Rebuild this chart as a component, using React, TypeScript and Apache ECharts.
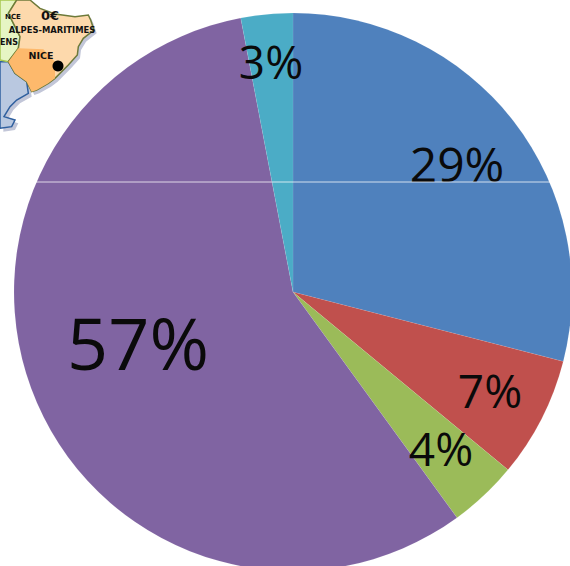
import React, { useEffect, useRef } from "react";
import * as echarts from "echarts";

const categories = ["A", "B", "C", "D", "E"];
const values = [29, 7, 4, 57, 3];
const colors = ["#4f81bd", "#c0504d", "#9bbb59", "#8064a2", "#4bacc6"];
const labelTexts = ["29%", "7%", "4%", "57%", "3%"];
const labelSizes = [48, 46, 46, 72, 46];
const labelCenters: number[][] = [[457, 163], [490, 390], [441, 448], [138, 342], [271, 61]];

const z = (pts: number[][], dx = 0, dy = 0) => pts.map(([x, y]) => [(x + dx) / 3, (y + dy) / 3]);
const poly = (pts: number[][], fill: string, stroke?: string, lw = 1, dx = 0, dy = 0) => ({
  type: "polygon",
  shape: { points: z(pts, dx, dy) },
  style: { fill, stroke: stroke || "none", lineWidth: lw },
  z: 10,
});
const mapText = (x: number, y: number, text: string, size: number) => ({
  type: "text",
  x,
  y,
  style: { text, fill: "#111", fontFamily: "DejaVu Sans", fontWeight: "bold", fontSize: size, align: "center", verticalAlign: "middle" },
  z: 12,
});

const seaShape = [[0, 185], [25, 185], [45, 220], [80, 245], [85, 280], [50, 300], [30, 320], [12, 350], [45, 360], [35, 380], [0, 385]];
const greenShape = [[0, 0], [50, 0], [25, 40], [60, 110], [55, 145], [25, 185], [0, 180]];
const peachShape = [[50, 0], [90, 0], [120, 25], [165, 42], [225, 50], [265, 45], [272, 60], [282, 90], [250, 115], [235, 140], [232, 165], [205, 195], [165, 235], [145, 250], [110, 270], [95, 275], [80, 245], [45, 220], [25, 185], [55, 145], [60, 110], [25, 40]];
const orangeShape = [[25, 185], [55, 145], [130, 148], [165, 185], [165, 235], [145, 250], [110, 270], [95, 275], [80, 245], [45, 220]];

export default function App() {
  const ref = useRef<HTMLDivElement>(null);
  useEffect(() => {
    document.body.style.margin = "0";
    document.body.style.background = "#fff";
    const chart = echarts.init(ref.current!, null, { renderer: "svg" });
    chart.setOption({
      animation: false,
      backgroundColor: "#ffffff",
      series: [
        {
          type: "pie",
          center: [293, 292],
          radius: [0, 279],
          startAngle: 90,
          clockwise: true,
          silent: true,
          itemStyle: { borderColor: "rgba(255,255,255,0.15)", borderWidth: 0.5 },
          labelLine: { show: false },
          label: { show: true, position: "inside", color: "#0a0a0a", fontFamily: "Open Sans" },
          labelLayout: (p: any) => ({
            x: labelCenters[p.dataIndex][0],
            y: labelCenters[p.dataIndex][1],
            align: "center",
            verticalAlign: "middle",
          }),
          data: categories.map((name, i) => ({
            name,
            value: values[i],
            itemStyle: { color: colors[i] },
            label: { formatter: labelTexts[i], fontSize: labelSizes[i] },
          })),
        },
      ],
      graphic: [
        { type: "line", shape: { x1: 36, y1: 182, x2: 551, y2: 182 }, style: { stroke: "rgba(255,255,255,0.75)", lineWidth: 1 }, z: 9 },
        poly(seaShape, "#c2c6d8", undefined, 1, 10, 10),
        poly(peachShape, "#c2c6d8", undefined, 1, 8, 10),
        poly(seaShape, "#b9c8e0", "#2f5f9e", 1.5),
        poly(greenShape, "#e6f5c4", "#a8c850", 1.5),
        poly(peachShape, "#fdd9ac", "#6d7a3a", 1.5),
        poly(orangeShape, "#fdb96c"),
        { type: "circle", shape: { cx: 58, cy: 66, r: 5.5 }, style: { fill: "#000" }, z: 12 },
        mapText(13, 17, "NCE", 7),
        mapText(50, 15, "0€", 13),
        mapText(52, 30, "ALPES-MARITIMES", 8.4),
        mapText(9, 42, "ENS", 8),
        mapText(41, 55, "NICE", 9.5),
      ],
    });
    return () => chart.dispose();
  }, []);
  return <div ref={ref} style={{ width: 570, height: 566 }} />;
}
